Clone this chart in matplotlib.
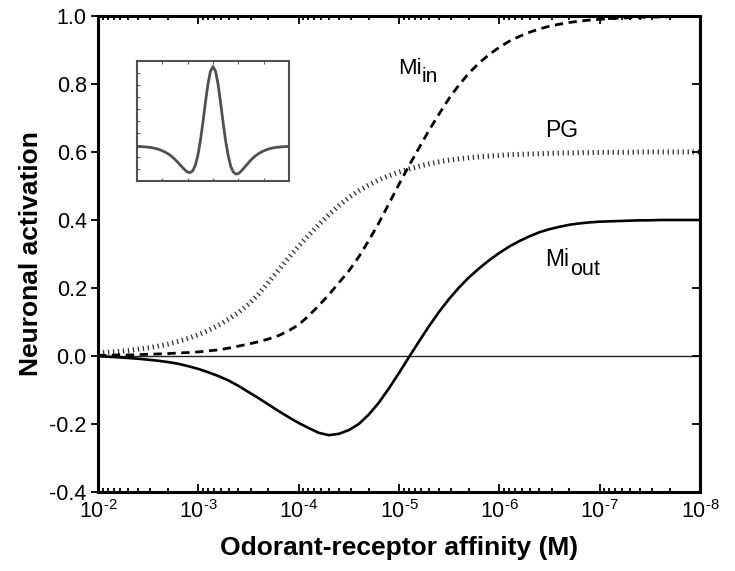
import numpy as np
import matplotlib
matplotlib.use("Agg")
import matplotlib.pyplot as plt
from matplotlib.ticker import LogLocator, FuncFormatter, MultipleLocator, NullFormatter

plt.rcParams['font.family'] = ['Liberation Sans', 'DejaVu Sans']
plt.rcParams['mathtext.fontset'] = 'custom'
plt.rcParams['mathtext.rm'] = 'Liberation Sans'
plt.rcParams['mathtext.it'] = 'Liberation Sans:italic'
plt.rcParams['mathtext.bf'] = 'Liberation Sans:bold'
plt.rcParams['axes.unicode_minus'] = False

# -log10 of affinity (M), every 0.1 decade from 1e-2 to 1e-8
neg_log_affinity = [round(2.0 + 0.1 * i, 1) for i in range(61)]

mi_in = [0.002, 0.002, 0.003, 0.003, 0.004, 0.005, 0.006, 0.007, 0.009, 0.010,
         0.012, 0.015, 0.018, 0.023, 0.029, 0.035, 0.042, 0.050, 0.060, 0.074,
         0.092, 0.118, 0.148, 0.180, 0.215, 0.250, 0.292, 0.340, 0.392, 0.448,
         0.505, 0.560, 0.612, 0.664, 0.712, 0.758, 0.798, 0.833, 0.862, 0.887,
         0.908, 0.926, 0.940, 0.952, 0.962, 0.970, 0.976, 0.981, 0.985, 0.988,
         0.990, 0.992, 0.994, 0.995, 0.996, 0.997, 0.997, 0.998, 0.998, 0.999, 0.999]

pg = [0.009, 0.011, 0.013, 0.016, 0.020, 0.024, 0.029, 0.035, 0.043, 0.052,
      0.062, 0.075, 0.090, 0.108, 0.128, 0.152, 0.182, 0.217, 0.253, 0.289,
      0.323, 0.355, 0.386, 0.415, 0.442, 0.466, 0.486, 0.503, 0.518, 0.530,
      0.541, 0.550, 0.558, 0.565, 0.571, 0.576, 0.580, 0.583, 0.586, 0.588,
      0.590, 0.592, 0.593, 0.594, 0.595, 0.596, 0.597, 0.597, 0.598, 0.598,
      0.599, 0.599, 0.599, 0.599, 0.600, 0.600, 0.600, 0.600, 0.600, 0.600, 0.600]

mi_out = [-0.001, -0.002, -0.004, -0.006, -0.008, -0.011, -0.014, -0.018, -0.023, -0.030,
          -0.038, -0.048, -0.059, -0.072, -0.088, -0.106, -0.124, -0.143, -0.162, -0.180,
          -0.197, -0.212, -0.226, -0.233, -0.229, -0.218, -0.200, -0.172, -0.137, -0.095,
          -0.050, -0.003, 0.043, 0.088, 0.130, 0.168, 0.202, 0.232, 0.258, 0.282,
          0.303, 0.322, 0.338, 0.352, 0.364, 0.373, 0.380, 0.386, 0.390, 0.393,
          0.395, 0.396, 0.397, 0.398, 0.399, 0.399, 0.400, 0.400, 0.400, 0.400, 0.400]

# center-surround profile in the inset, position -3..3 in steps of 0.1
inset_pos = [round(-3.0 + 0.1 * i, 1) for i in range(61)]
inset_profile = [0.288, 0.2875, 0.2865, 0.285, 0.283, 0.281, 0.277, 0.273, 0.268, 0.261,
                 0.252, 0.242, 0.230, 0.216, 0.199, 0.180, 0.158, 0.136, 0.112, 0.091,
                 0.074, 0.070, 0.085, 0.130, 0.212, 0.333, 0.486, 0.654, 0.807, 0.916,
                 0.955,
                 0.916, 0.807, 0.654, 0.486, 0.333, 0.212, 0.122, 0.075, 0.058, 0.062,
                 0.080, 0.103, 0.128, 0.152, 0.176, 0.196, 0.214, 0.228, 0.241, 0.251,
                 0.260, 0.267, 0.273, 0.277, 0.281, 0.283, 0.285, 0.2865, 0.2875, 0.288]

affinity = 10.0 ** (-np.array(neg_log_affinity))

fig = plt.figure(figsize=(7.35, 5.71), dpi=100)
ax = fig.add_axes([0.1333, 0.1384, 0.8191, 0.8336])

ax.axhline(0, color='#222222', lw=1.0, zorder=1)
ax.plot(affinity, pg, color='#333333', lw=3.6, dashes=(0.26, 0.74),
        dash_capstyle='butt', zorder=2)
ax.plot(affinity, mi_in, color='black', lw=2.0, dashes=(3.0, 2.0), zorder=3)
ax.plot(affinity, mi_out, color='black', lw=1.9, zorder=3)

ax.set_xscale('log')
ax.set_xlim(1e-2, 1e-8)
ax.set_ylim(-0.4, 1.0)


def decade_label(v, pos):
    exp = int(round(np.log10(v)))
    return r'$\mathdefault{10^{\text{%d}}}$' % exp


ax.xaxis.set_major_locator(LogLocator(base=10, numticks=10))
ax.xaxis.set_major_formatter(FuncFormatter(decade_label))
ax.xaxis.set_minor_locator(LogLocator(base=10, subs=np.arange(2, 10), numticks=20))
ax.xaxis.set_minor_formatter(NullFormatter())
ax.yaxis.set_major_locator(MultipleLocator(0.2))
ax.yaxis.set_major_formatter(FuncFormatter(lambda v, p: f"{v:.1f}"))

for side in ax.spines.values():
    side.set_linewidth(2.2)

ax.tick_params(axis='x', which='both', direction='in', top=True, bottom=True,
               labelsize=15.5, pad=6, width=1.3)
ax.tick_params(axis='x', which='major', length=6)
ax.tick_params(axis='x', which='minor', length=3)
ax.tick_params(axis='y', which='major', direction='out', left=True, right=False,
               labelsize=15.5, length=5, width=1.3, pad=3)
# inward ticks on the right spine
ax_r = ax.twinx()
ax_r.set_ylim(ax.get_ylim())
ax_r.yaxis.set_major_locator(MultipleLocator(0.2))
ax_r.tick_params(axis='y', direction='in', length=6, width=1.3, labelright=False)
ax_r.spines['right'].set_linewidth(2.2)

ax.set_xlabel('Odorant-receptor affinity (M)', fontsize=19, fontweight='bold', labelpad=9)
ax.set_ylabel('Neuronal activation', fontsize=19, fontweight='bold', labelpad=5)

# curve labels with full-size subscripts
ax.text(10 ** -4.99, 0.83, 'Mi', fontsize=16, ha='left', va='baseline')
ax.annotate('in', xy=(10 ** -4.99, 0.83), xytext=(24, -8), textcoords='offset pixels',
            fontsize=15, ha='left', va='baseline')
ax.text(10 ** -6.46, 0.644, 'PG', fontsize=16.5, ha='left', va='baseline')
ax.text(10 ** -6.46, 0.265, 'Mi', fontsize=16.5, ha='left', va='baseline')
ax.annotate('out', xy=(10 ** -6.46, 0.265), xytext=(25, -9), textcoords='offset pixels',
            fontsize=15.5, ha='left', va='baseline')

# inset
ins = fig.add_axes([0.1864, 0.683, 0.2068, 0.210])
ins.plot(inset_pos, inset_profile, color='#505050', lw=2.0)
ins.set_xlim(-3, 3)
ins.set_ylim(0, 1)
ins.set_xticks([-2, -1, 0, 1, 2])
ins.set_yticks(np.arange(0.1, 1.0, 0.1))
ins.tick_params(direction='in', top=True, bottom=True, left=True, right=False,
                length=2.5, width=0.8, colors='#606060',
                labelbottom=False, labelleft=False)
for side in ins.spines.values():
    side.set_linewidth(1.5)
    side.set_color('#505050')

fig.savefig('out.png', dpi=100)
